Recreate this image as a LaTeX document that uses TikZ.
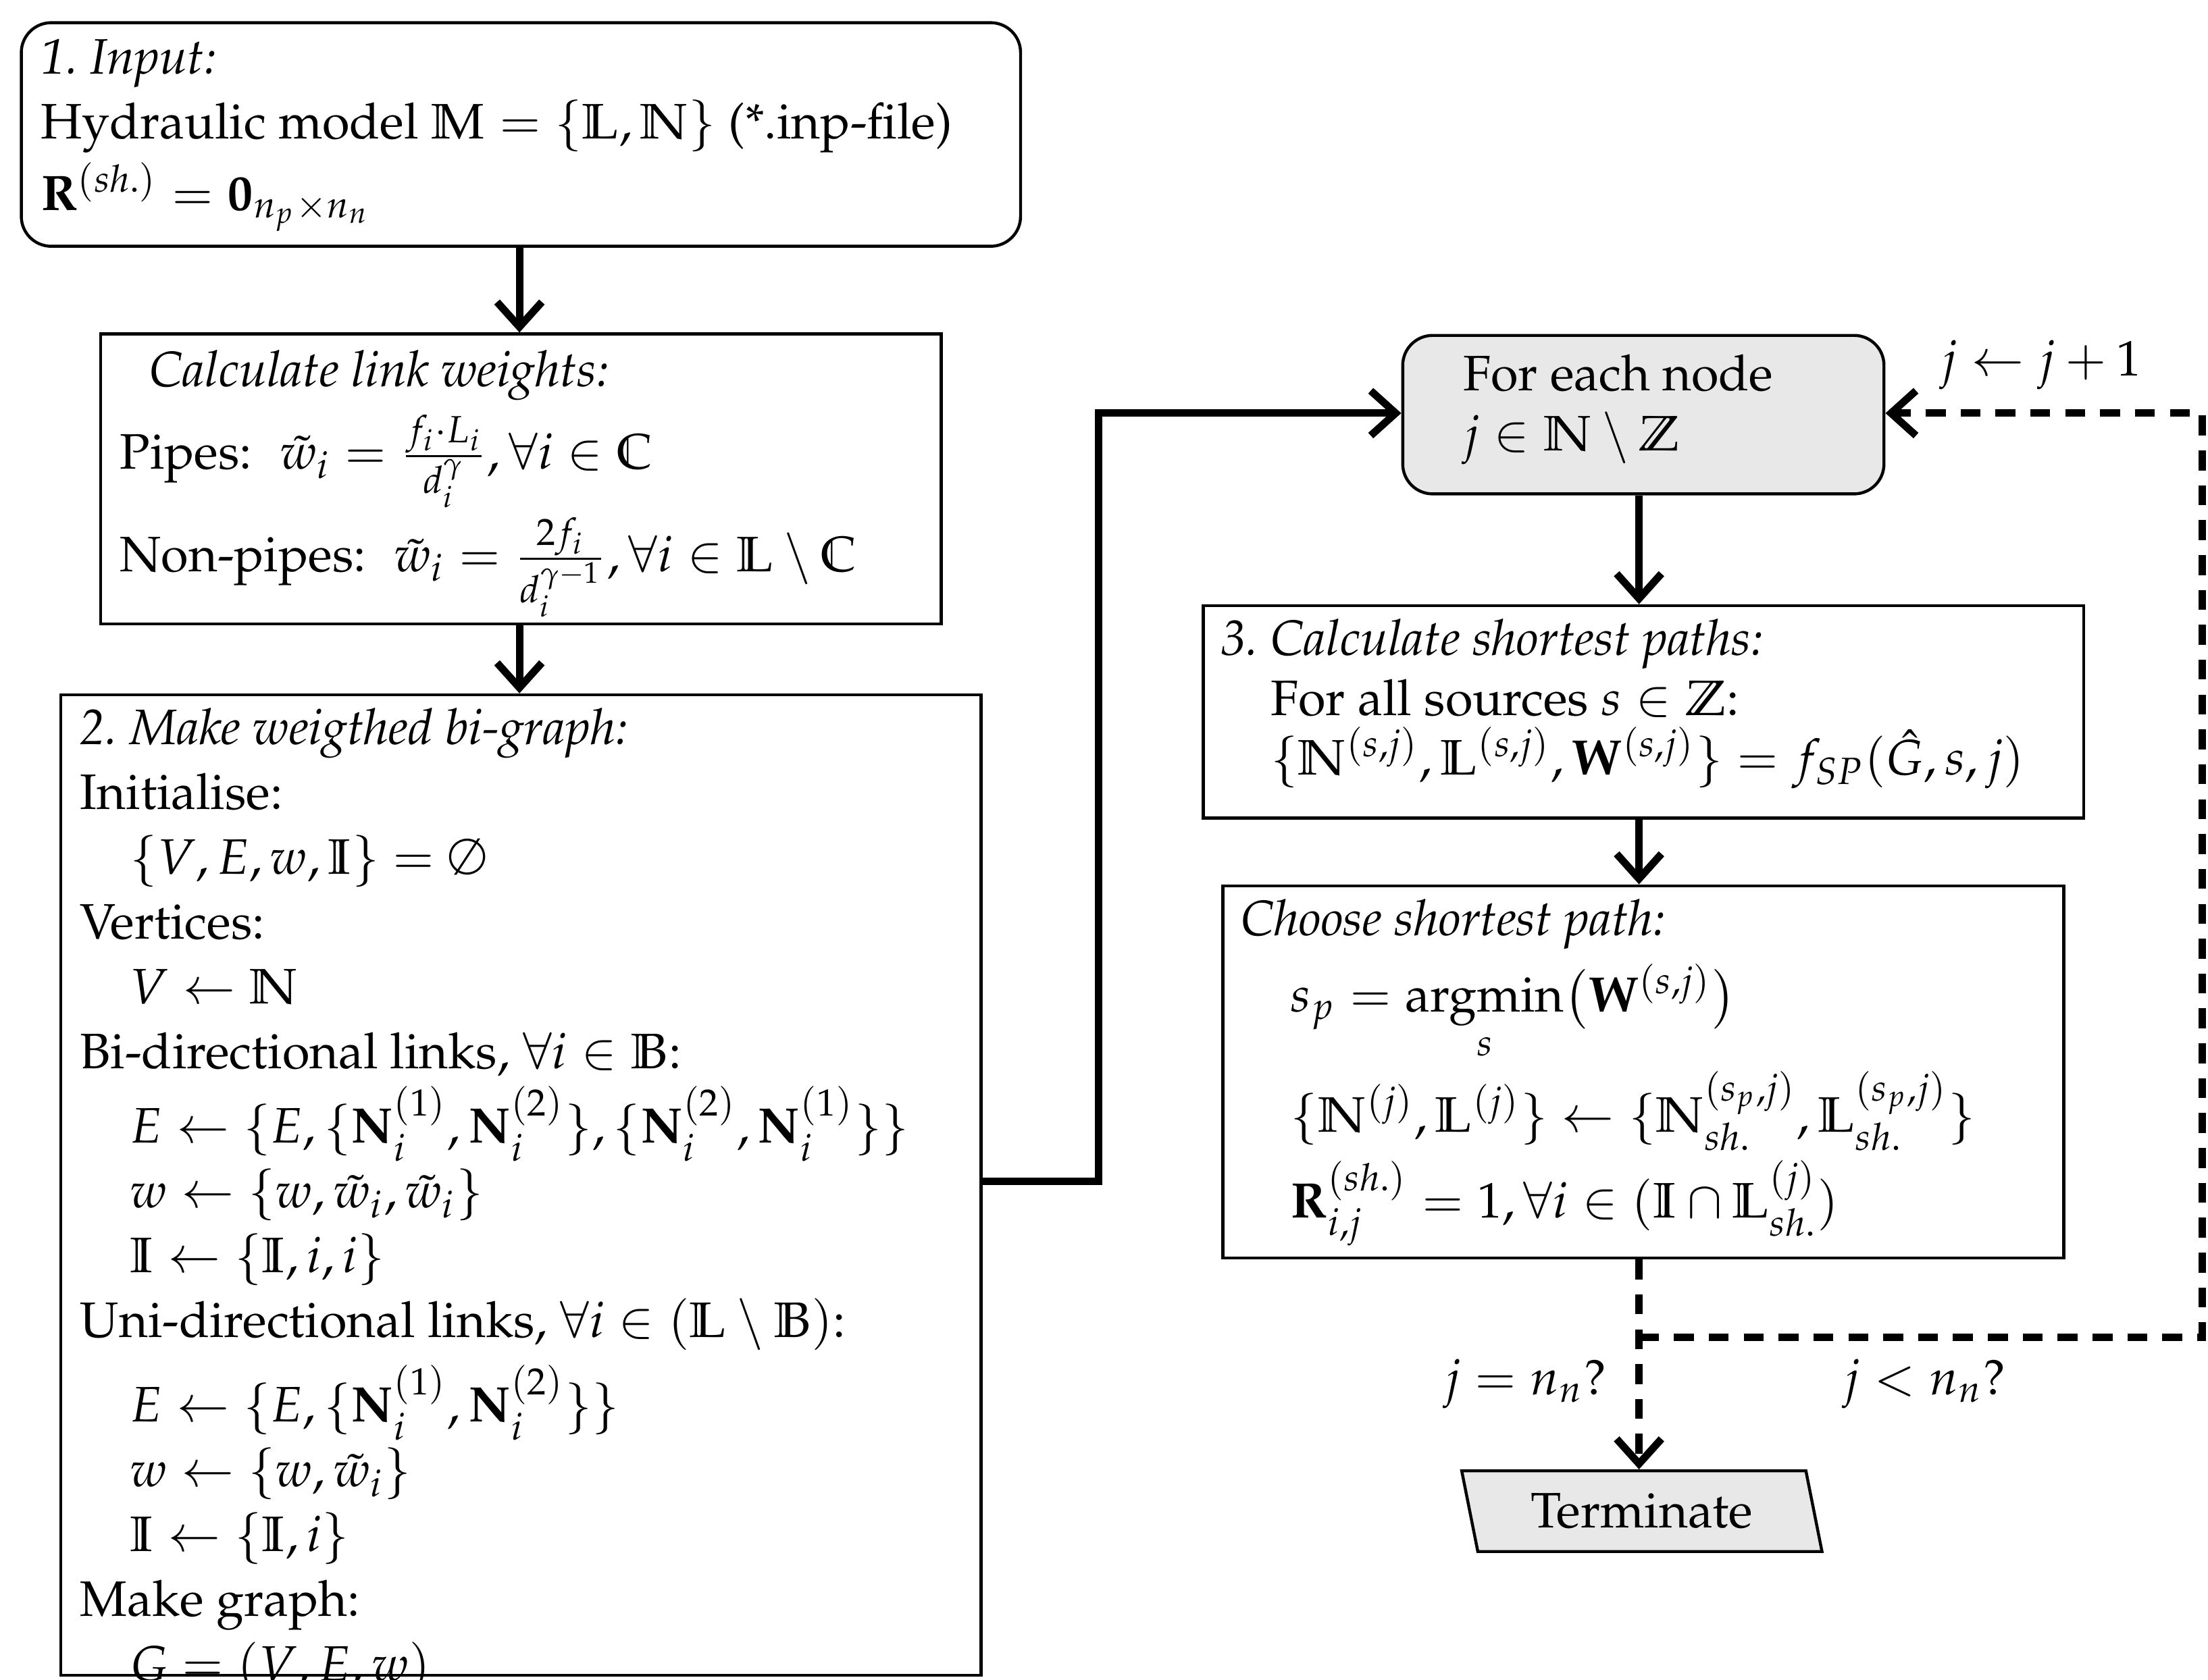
\documentclass[tikz,border=0pt]{standalone}
\usepackage{amsmath,amssymb}
\usepackage{mathpazo}
\usepackage[T1]{fontenc}
\usetikzlibrary{arrows.meta,shapes.geometric}
\DeclareMathOperator*{\argmin}{argmin}
\begin{document}
\begin{tikzpicture}[x=0.284pt,y=-0.284pt,
  box/.style={draw,line width=0.6pt,anchor=north west,inner sep=0pt},
  txt/.style={anchor=north west,align=left,inner sep=0pt},
  arr/.style={line width=1.5pt,-{Straight Barb[length=5pt,width=9pt,line width=1.5pt]}},
  darr/.style={arr,dash pattern=on 4pt off 3pt}]
\useasboundingbox (0,0) rectangle (1560,1187);
% boxes
\node[box,rounded corners=6pt,minimum width=706*0.284pt,minimum height=158*0.284pt] (in) at (14,15) {};
\node[box,minimum width=594*0.284pt,minimum height=205*0.284pt] (lw) at (70,235) {};
\node[box,minimum width=650*0.284pt,minimum height=693*0.284pt] (bg) at (42,490) {};
\node[box,rounded corners=6pt,fill=gray!18,minimum width=340*0.284pt,minimum height=112*0.284pt] (fe) at (990,236) {};
\node[box,minimum width=622*0.284pt,minimum height=150*0.284pt] (sp) at (849,427) {};
\node[box,minimum width=594*0.284pt,minimum height=263*0.284pt] (ch) at (863,625) {};
\node[draw,line width=0.6pt,fill=gray!18,trapezium,trapezium left angle=107,trapezium right angle=73,
  trapezium stretches=true,minimum width=255*0.284pt,minimum height=57*0.284pt,inner sep=0pt] (te) at (1160,1068) {Terminate};
% texts
\node[txt] (t1) at (28,27) {\textit{1.\ Input:}\\[1pt]
Hydraulic model $\mathbb{M}=\{\mathbb{L},\mathbb{N}\}$ (*.inp-file)\\[1pt]
$\mathbf{R}^{(sh.)}=\mathbf{0}_{n_p\times n_n}$};
\node[txt] (t2) at (84,247) {\hspace{0.6em}\textit{Calculate link weights:}\\[2pt]
Pipes: \ $\tilde{w}_i=\frac{f_i\cdot L_i}{d_i^{\gamma}},\forall i\in\mathbb{C}$\\[1pt]
Non-pipes: \ $\tilde{w}_i=\frac{2f_i}{d_i^{\gamma-1}},\forall i\in\mathbb{L}\setminus\mathbb{C}$};
\node[txt] (t3) at (56,500) {\textit{2.\ Make weigthed bi-graph:}\\[1pt]
Initialise:\\[1pt]
\hspace{1em}$\{V,E,w,\mathbb{I}\}=\emptyset$\\[1pt]
Vertices:\\[1pt]
\hspace{1em}$V\leftarrow\mathbb{N}$\\[1pt]
Bi-directional links, $\forall i\in\mathbb{B}$:\\[1pt]
\hspace{1em}$E\leftarrow\{E,\{\mathbf{N}_i^{(1)},\mathbf{N}_i^{(2)}\},\{\mathbf{N}_i^{(2)},\mathbf{N}_i^{(1)}\}\}$\\[1pt]
\hspace{1em}$w\leftarrow\{w,\tilde{w}_i,\tilde{w}_i\}$\\[1pt]
\hspace{1em}$\mathbb{I}\leftarrow\{\mathbb{I},i,i\}$\\[1pt]
Uni-directional links, $\forall i\in(\mathbb{L}\setminus\mathbb{B})$:\\[2pt]
\hspace{1em}$E\leftarrow\{E,\{\mathbf{N}_i^{(1)},\mathbf{N}_i^{(2)}\}\}$\\[1pt]
\hspace{1em}$w\leftarrow\{w,\tilde{w}_i\}$\\[1pt]
\hspace{1em}$\mathbb{I}\leftarrow\{\mathbb{I},i\}$\\[1pt]
Make graph:\\[1pt]
\hspace{1em}$G=(V,E,w)$};
\node[txt] (t4) at (1033,250) {For each node\\ $j\in\mathbb{N}\setminus\mathbb{Z}$};
\node[txt] (t5) at (862,437) {\textit{3.\ Calculate shortest paths:}\\
\hspace{1em}For all sources $s\in\mathbb{Z}$:\\
\hspace{1em}$\{\mathbb{N}^{(s,j)},\mathbb{L}^{(s,j)},\mathbf{W}^{(s,j)}\}=f_{SP}(\hat{G},s,j)$};
\node[txt] (t6) at (876,635) {\textit{Choose shortest path:}\\[2pt]
\hspace{1em}$s_p=\argmin\limits_{s}\bigl(\mathbf{W}^{(s,j)}\bigr)$\\[1pt]
\hspace{1em}$\{\mathbb{N}^{(j)},\mathbb{L}^{(j)}\}\leftarrow\{\mathbb{N}_{sh.}^{(s_p,j)},\mathbb{L}_{sh.}^{(s_p,j)}\}$\\[1pt]
\hspace{1em}$\mathbf{R}_{i,j}^{(sh.)}=1,\forall i\in(\mathbb{I}\cap\mathbb{L}_{sh.}^{(j)})$};
% labels
\node (l1) at (1442,258) {$j\leftarrow j+1$};
\node (l2) at (1078,978) {$j=n_n?$};
\node (l3) at (1360,978) {$j<n_n?$};
% connectors
\coordinate (c1) at (776,835);
\coordinate (c2) at (776,292);
\coordinate (d1) at (1158,945);
\coordinate (d2) at (1556,945);
\coordinate (d3) at (1556,292);
\draw[arr] (in.south -| 367,0) -- (lw.north -| 367,0);
\draw[arr] (lw.south -| 367,0) -- (bg.north -| 367,0);
\draw[arr] (bg.east |- c1) -- (c1) -- (c2) -- (fe.west |- c2);
\draw[arr] (fe.south -| 1158,0) -- (sp.north -| 1158,0);
\draw[arr] (sp.south -| 1158,0) -- (ch.north -| 1158,0);
\draw[darr] (ch.south -| 1158,0) -- (te.north -| 1158,0);
\draw[darr] (d1) -- (d2) -- (d3) -- (fe.east |- d3);
\end{tikzpicture}
\end{document}
